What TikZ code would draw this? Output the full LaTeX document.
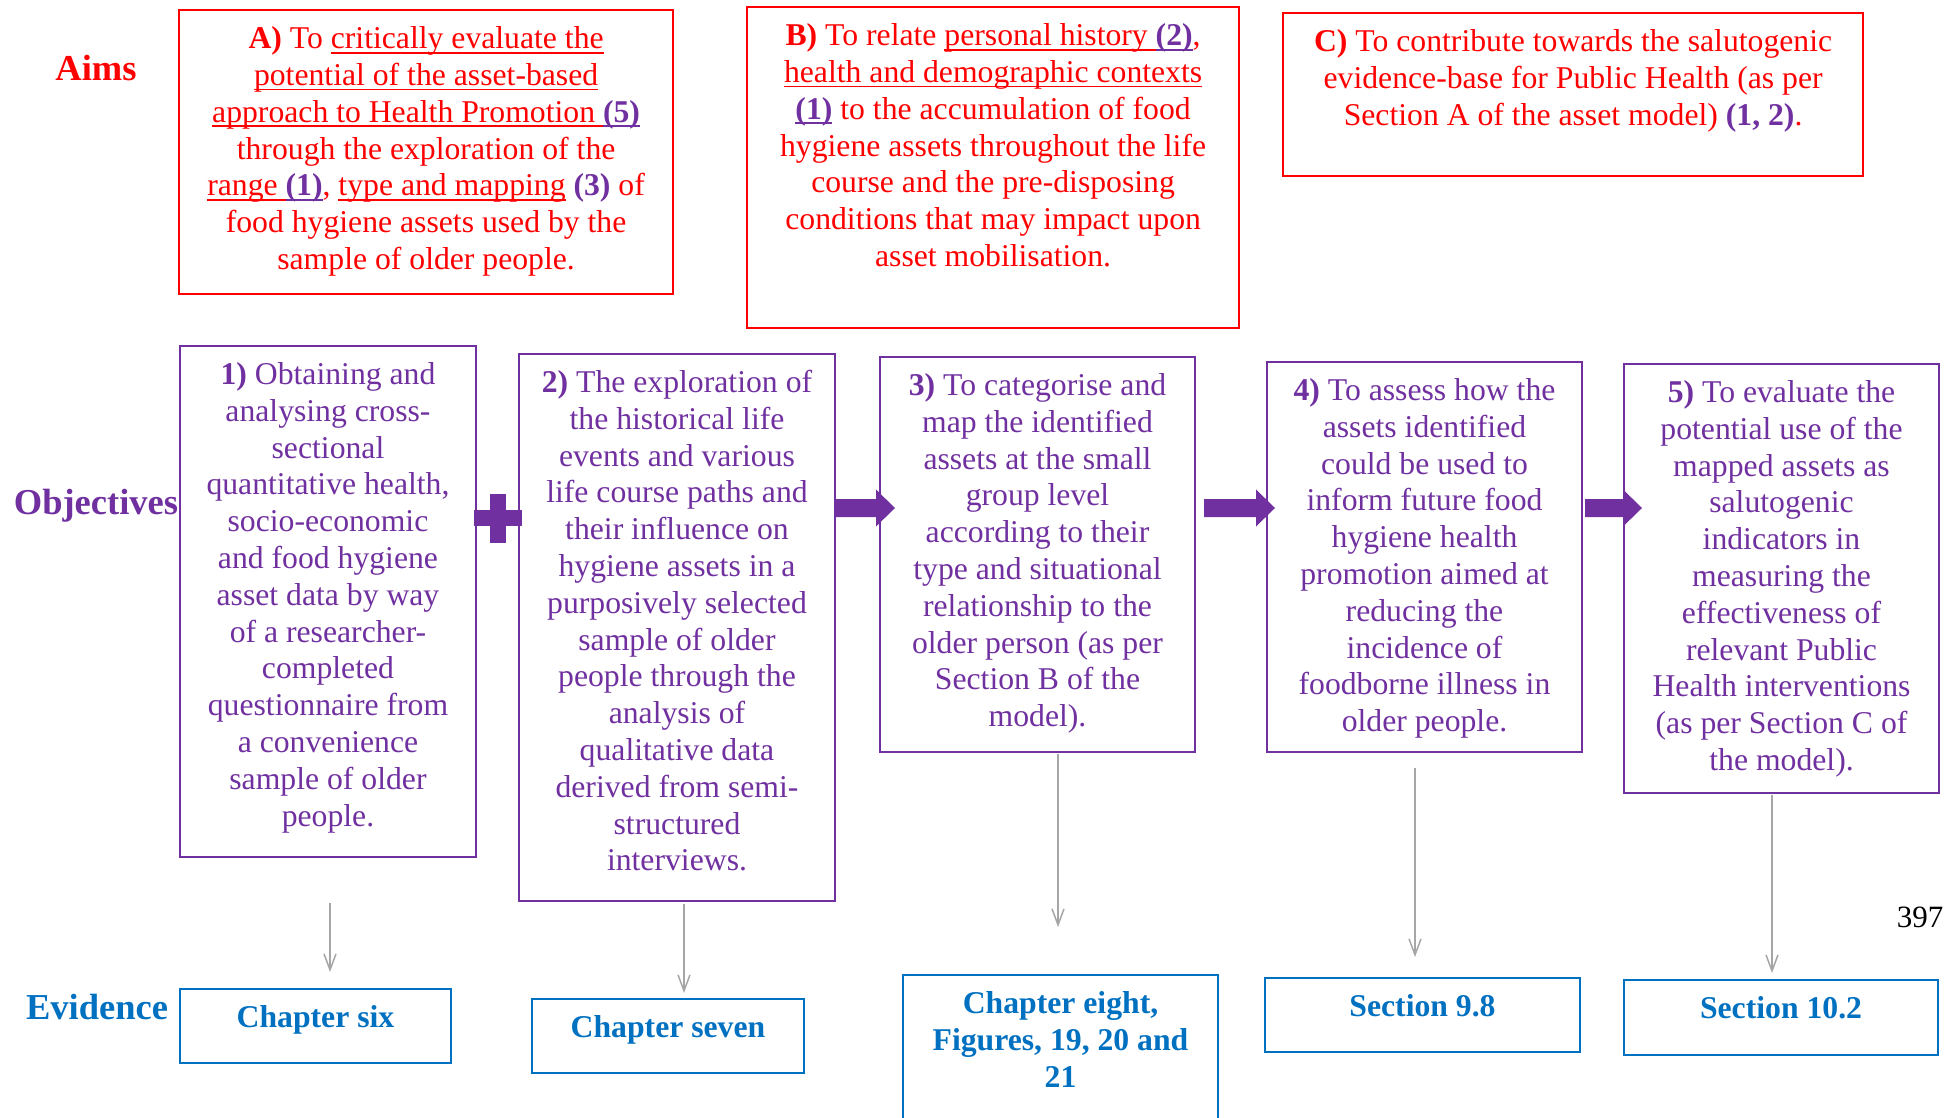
\documentclass[tikz,border=0pt]{standalone}
\usepackage{fontspec}
\setmainfont{Liberation Serif}
\usetikzlibrary{arrows.meta,calc}

\definecolor{aimred}{HTML}{FF0000}
\definecolor{objpurple}{HTML}{7030A0}
\definecolor{evblue}{HTML}{0070C0}
\definecolor{linkgrey}{HTML}{A6A6A6}

% body text size used inside every box
\newcommand\bodyfont{\fontsize{31.7}{36.8}\selectfont}
% underline at a fixed depth, in the current colour
\newcommand\undl[1]{\leavevmode\setbox0\hbox{#1}\rlap{\rule[-5pt]{\wd0}{1.8pt}}\box0\relax}
% fixed-size box content: width, height, centred lines starting from the top
\newcommand\boxtext[3]{\begin{minipage}[t][#2][t]{#1}\centering\bodyfont\rule{0pt}{38.5pt}#3\end{minipage}}
% thick purple block arrow from a start point to a tip point
\newcommand\blockarrow[2]{%
  \fill[objpurple] let \p1=(#1), \p2=(#2) in
    (\x1,\y1+9pt) -- (\x2-19pt,\y1+9pt) -- (\x2-19pt,\y1+18.5pt) -- (\x2,\y1)
    -- (\x2-19pt,\y1-18.5pt) -- (\x2-19pt,\y1-9pt) -- (\x1,\y1-9pt) -- cycle;}

\begin{document}
\begin{tikzpicture}[x=1pt,y=-1pt,
  redbox/.style={draw=aimred, line width=2.2pt, text=aimred, inner sep=0pt, anchor=north west},
  objbox/.style={draw=objpurple, line width=2pt, text=objpurple, inner sep=0pt, anchor=north west},
  evbox/.style={draw=evblue, line width=2pt, text=evblue, font=\bfseries, inner sep=0pt, anchor=north west},
  rowlabel/.style={font=\bfseries\fontsize{36.5}{40}\selectfont, inner sep=0pt},
  greyarr/.style={draw=linkgrey, line width=1.5pt, -{Straight Barb[length=16pt,width=12pt]}}]
\useasboundingbox (0,0) rectangle (1945,1117);

% row labels
\node[rowlabel, text=aimred] (laims) at (96,68) {Aims};
\node[rowlabel, text=objpurple] (lobj) at (96,506) {Objectives};
\node[rowlabel, text=evblue] (lev) at (97,1007) {Evidence};

% aims
\node[redbox] (aimA) at (178,9) {\boxtext{494pt}{284pt}{%
\textbf{A)} To \undl{critically evaluate the}\\
\undl{potential of the asset-based}\\
\undl{approach to Health Promotion }\textcolor{objpurple}{\undl{\textbf{(5)}}}\\
through the exploration of the\\
\undl{range }\textcolor{objpurple}{\undl{\textbf{(1)}}}, \undl{type and mapping} \textcolor{objpurple}{\textbf{(3)}} of\\
food hygiene assets used by the\\
sample of older people.}};

\node[redbox] (aimB) at (746,6) {\boxtext{492pt}{321pt}{%
\textbf{B)} To relate \undl{personal history }\textcolor{objpurple}{\undl{\textbf{(2)}}},\\
\undl{health and demographic contexts}\\
\textcolor{objpurple}{\undl{\textbf{(1)}}} to the accumulation of food\\
hygiene assets throughout the life\\
course and the pre-disposing\\
conditions that may impact upon\\
asset mobilisation.}};

\node[redbox] (aimC) at (1282,12) {\boxtext{580pt}{163pt}{%
\textbf{C)} To contribute towards the salutogenic\\
evidence-base for Public Health (as per\\
Section A of the asset model) \textcolor{objpurple}{\textbf{(1, 2)}}.}};

% objectives
\node[objbox] (o1) at (179,345) {\boxtext{296pt}{511pt}{%
\textbf{1)} Obtaining and\\
analysing cross-\\
sectional\\
quantitative health,\\
socio-economic\\
and food hygiene\\
asset data by way\\
of a researcher-\\
completed\\
questionnaire from\\
a convenience\\
sample of older\\
people.}};

\node[objbox] (o2) at (518,353) {\boxtext{316pt}{547pt}{%
\textbf{2)} The exploration of\\
the historical life\\
events and various\\
life course paths and\\
their influence on\\
hygiene assets in a\\
purposively selected\\
sample of older\\
people through the\\
analysis of\\
qualitative data\\
derived from semi-\\
structured\\
interviews.}};

\node[objbox] (o3) at (879,356) {\boxtext{315pt}{395pt}{%
\textbf{3)} To categorise and\\
map the identified\\
assets at the small\\
group level\\
according to their\\
type and situational\\
relationship to the\\
older person (as per\\
Section B of the\\
model).}};

\node[objbox] (o4) at (1266,361) {\boxtext{315pt}{390pt}{%
\textbf{4)} To assess how the\\
assets identified\\
could be used to\\
inform future food\\
hygiene health\\
promotion aimed at\\
reducing the\\
incidence of\\
foodborne illness in\\
older people.}};

\node[objbox] (o5) at (1623,363) {\boxtext{315pt}{429pt}{%
\textbf{5)} To evaluate the\\
potential use of the\\
mapped assets as\\
salutogenic\\
indicators in\\
measuring the\\
effectiveness of\\
relevant Public\\
Health interventions\\
(as per Section C of\\
the model).}};

% evidence
\node[evbox] (e1) at (179,988) {\boxtext{271pt}{74pt}{Chapter six}};
\node[evbox] (e2) at (531,998) {\boxtext{272pt}{74pt}{Chapter seven}};
\node[evbox] (e3) at (902,974) {\boxtext{315pt}{166pt}{Chapter eight,\\Figures, 19, 20 and\\21}};
\node[evbox] (e4) at (1264,977) {\boxtext{315pt}{74pt}{Section 9.8}};
\node[evbox] (e5) at (1623,979) {\boxtext{314pt}{75pt}{Section 10.2}};

% page number
\node[font=\fontsize{31}{36}\selectfont, inner sep=0pt] (pageno) at (1920,917) {397};

% plus sign between objectives 1 and 2
\fill[objpurple] (474,510) rectangle (522,526);
\fill[objpurple] (490,494) rectangle (506,543);

% block arrows between objectives
\coordinate (ay) at (0,508);
\blockarrow{o2.east |- ay}{$(o3.west |- ay)+(16,0)$}
\blockarrow{$(o3.east |- ay)+(8,0)$}{$(o4.west |- ay)+(9,0)$}
\blockarrow{$(o4.east |- ay)+(2,0)$}{$(o5.west |- ay)+(19,0)$}

% links from objectives to evidence
\coordinate (x1) at (330,0);
\coordinate (x2) at (684,0);
\coordinate (x3) at (1058,0);
\coordinate (x4) at (1415,0);
\coordinate (x5) at (1772,0);
\draw[greyarr, shorten <=45pt, shorten >=16pt] (o1.south -| x1) -- (e1.north -| x1);
\draw[greyarr, shorten <=2pt, shorten >=5pt] (o2.south -| x2) -- (e2.north -| x2);
\draw[greyarr, shorten <=1pt, shorten >=47pt] (o3.south -| x3) -- (e3.north -| x3);
\draw[greyarr, shorten <=15pt, shorten >=20pt] (o4.south -| x4) -- (e4.north -| x4);
\draw[greyarr, shorten <=1pt, shorten >=6pt] (o5.south -| x5) -- (e5.north -| x5);
\end{tikzpicture}
\end{document}
